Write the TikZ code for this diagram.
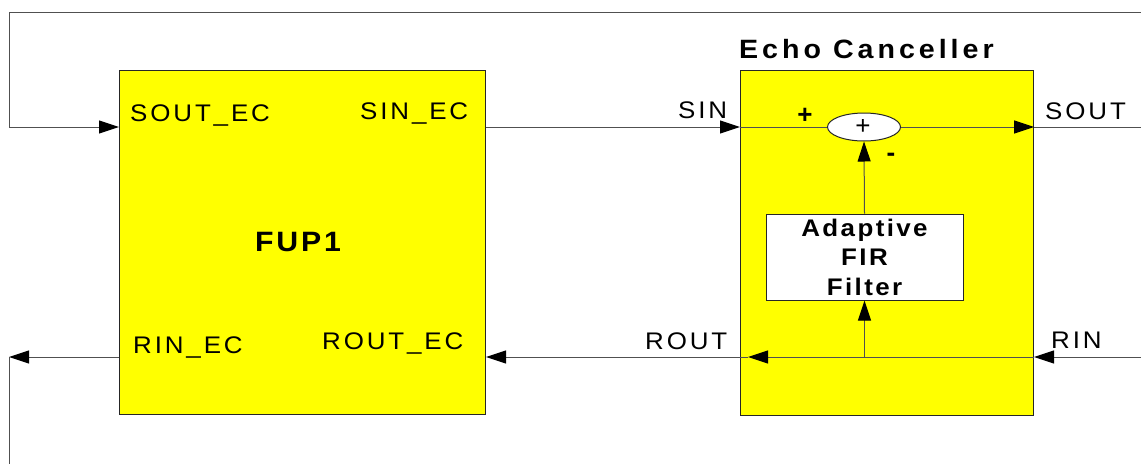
\documentclass[tikz,border=0pt]{standalone}
\usepackage{fontspec}
\usetikzlibrary{arrows.meta,shapes.geometric,calc}
\newfontfamily\lab[FakeStretch=1.08,LetterSpace=12]{Liberation Sans}
\newfontfamily\labt[FakeStretch=1.08,LetterSpace=15]{Liberation Sans}
\newfontfamily\labf[FakeStretch=1.08,LetterSpace=10]{Liberation Sans}
\definecolor{ecyellow}{RGB}{255,255,0}
\definecolor{wirec}{RGB}{80,80,80}
\tikzset{
  blk/.style={draw=black!85, fill=ecyellow, line width=1.1pt, inner sep=0pt, anchor=north west},
  wire/.style={draw=wirec, line width=1pt},
  arr/.style={wire, -{Triangle[length=20pt,width=13pt,color=black]}},
  lbl/.style={inner sep=0pt, anchor=base west, font=\lab\fontsize{24}{28}\selectfont},
  blbl/.style={inner sep=0pt, anchor=base west, font=\labt\bfseries\fontsize{26.5}{30}\selectfont},
}
\begin{document}
\begin{tikzpicture}[x=1pt,y=-1pt]
\useasboundingbox (0,0) rectangle (1141,464);
% row coordinates
\coordinate (yS) at (0,127);
\coordinate (yR) at (0,357);
% blocks
\node[blk, minimum width=366pt, minimum height=344pt] (fup) at (119,70) {};
\node[blk, minimum width=293pt, minimum height=345pt] (ec) at (740,70) {};
\node[draw=black!85, fill=white, line width=1pt, ellipse, minimum width=73pt, minimum height=28pt, inner sep=0pt] (sum) at (864,127) {};
\node[inner sep=0pt, font=\fontspec{Liberation Sans}\fontsize{26}{28}\selectfont] (sumplus) at (863,127) {+};
\node[draw=black!85, fill=white, line width=1pt, inner sep=0pt, minimum width=197pt, minimum height=86pt,
      align=center, font=\labf\bfseries\fontsize{24}{29.5}\selectfont] (fir) at (864.5,257) {Adaptive\\FIR\\Filter};
% free ends
\coordinate (tr) at (1141,12);
\coordinate (tl) at (9,12);
\coordinate (outS) at (1141,127);
\coordinate (inR) at (1141,357);
\coordinate (tipR) at (748,357);
\coordinate (bl1) at (9,357);
\coordinate (bl2) at (9,464);
% connectors
\draw[arr] (tr) -- (tl) |- (fup.west |- yS);
\draw[arr] (fup.east |- yS) -- (ec.west |- yS);
\draw[wire] (ec.west |- yS) -- (sum.west);
\draw[arr] (sum.east) -- (ec.east |- yS);
\draw[wire] (ec.east |- yS) -- (outS);
\draw[arr] (fir.north) -- (sum.south);
\draw[arr] (inR) -- (ec.east |- yR);
\draw[arr] (ec.east |- yR) -- (tipR);
\draw[wire] (tipR) -- (ec.west |- yR);
\draw[arr] (ec.west |- yR) -- (fup.east |- yR);
\draw[arr] (fir.south |- yR) -- (fir.south);
\draw[arr] (fup.west |- yR) -- (bl1);
\draw[wire] (bl1) -- (bl2);
% labels
\node[lbl] (l1) at (130,121) {SOUT\_EC};
\node[lbl] (l2) at (360,119) {SIN\_EC};
\node[lbl] (l3) at (133,353) {RIN\_EC};
\node[lbl] (l4) at (322,349) {ROUT\_EC};
\node[lbl] (l5) at (678,118) {SIN};
\node[lbl] (l6) at (1045,119) {SOUT};
\node[lbl] (l7) at (645,349) {ROUT};
\node[lbl] (l8) at (1051,348) {RIN};
\node[blbl] (title) at (739,58) {Echo Canceller};
\node[inner sep=0pt, anchor=base west, font=\labf\bfseries\fontsize{28}{32}\selectfont] (fupname) at (255,251) {FUP1};
\node[inner sep=0pt, font=\fontspec{Liberation Sans}\bfseries\fontsize{26}{28}\selectfont] (plus) at (805,116) {+};
\node[inner sep=0pt, font=\fontspec{Liberation Sans}\bfseries\fontsize{26}{28}\selectfont] (minus) at (891,157) {-};
\end{tikzpicture}
\end{document}
